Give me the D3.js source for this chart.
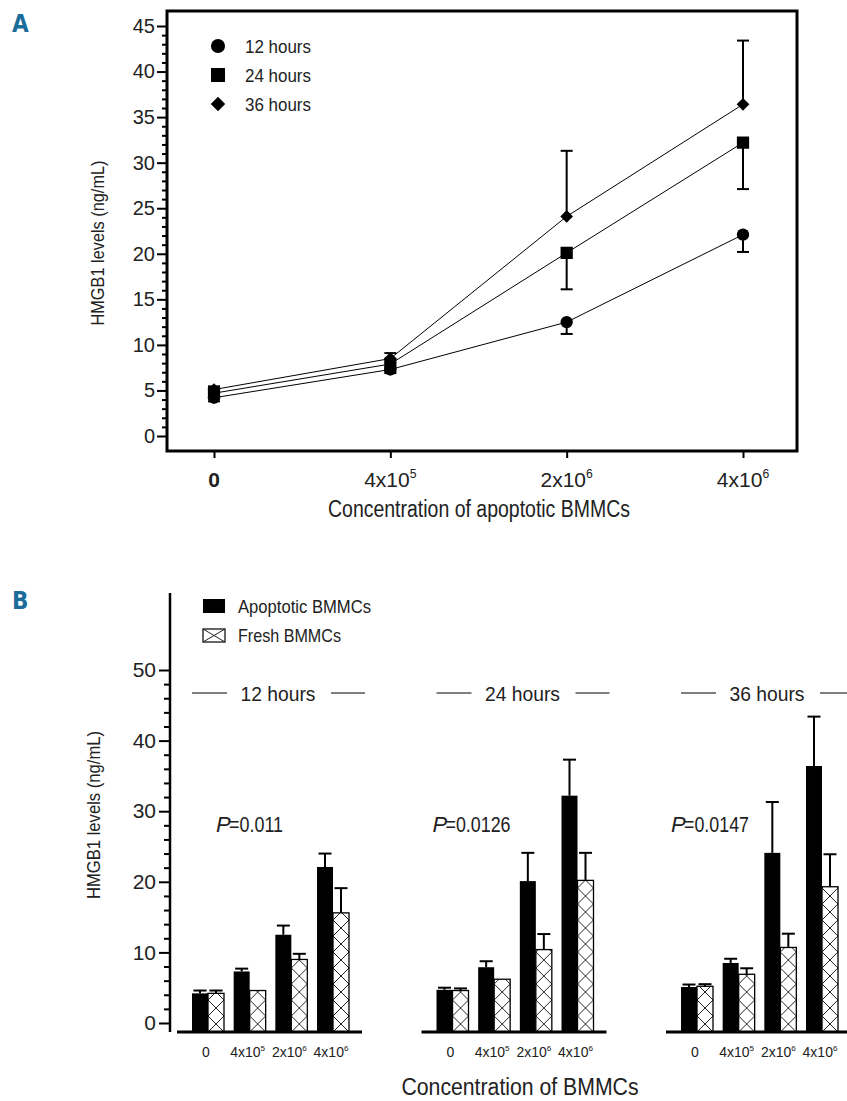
<!DOCTYPE html>
<html>
<head>
<meta charset="utf-8">
<script src="https://d3js.org/d3.v7.min.js"></script>
<style>
  body { margin: 0; background: #fff; }
  svg { font-family: "Liberation Sans", Arial, sans-serif; }
  .letter { font-family: "DejaVu Sans Condensed", "Liberation Sans", sans-serif; font-weight: bold; fill: #1b6c9a; }
  .axis .domain { display: none; }
  .axis line { stroke: #000; stroke-width: 2; }
  .axis text { fill: #222; font-family: "Liberation Sans", Arial, sans-serif; }
</style>
</head>
<body>
<svg id="fig" width="847" height="1101"></svg>
<script>
// ---- data ----
const concentrations = ["0", "4x10^5", "2x10^6", "4x10^6"];
const hours = ["12 hours", "24 hours", "36 hours"];

// apoptotic BMMCs (panel A lines and panel B black bars)
const apoptotic12 = [4.2, 7.3, 12.5, 22.1];
const apoptotic24 = [4.7, 7.9, 20.1, 32.2];
const apoptotic36 = [5.1, 8.5, 24.1, 36.4];
const apoptoticErr12 = [0.4, 0.4, 1.3, 1.9];
const apoptoticErr24 = [0.3, 0.85, 4.0, 5.1];
const apoptoticErr36 = [0.35, 0.6, 7.2, 7.0];

// fresh BMMCs (panel B hatched bars)
const fresh12 = [4.2, 4.6, 9.0, 15.6];
const fresh24 = [4.6, 6.2, 10.4, 20.2];
const fresh36 = [5.2, 6.9, 10.7, 19.3];
const freshErr12 = [0.4, 0, 0.8, 3.5];
const freshErr24 = [0.3, 0, 2.2, 3.9];
const freshErr36 = [0.3, 0.85, 1.95, 4.6];

const pValues = ["0.011", "0.0126", "0.0147"];
const yTicksA = d3.range(0, 46, 5);
const yTicksB = d3.range(0, 51, 10);

const apoptotic = [apoptotic12, apoptotic24, apoptotic36];
const apoptoticErr = [apoptoticErr12, apoptoticErr24, apoptoticErr36];
const fresh = [fresh12, fresh24, fresh36];
const freshErr = [freshErr12, freshErr24, freshErr36];

const svg = d3.select("#fig");

// superscript label helper: "4x10^5" -> 4x10 + small 5
function concLabel(sel, label, size) {
  const parts = label.split("^");
  sel.append("tspan").text(parts[0]);
  if (parts[1]) {
    sel.append("tspan").attr("font-size", size * 0.58).attr("dy", -size * 0.42).text(parts[1]);
  }
}
// squeeze a text to a width (the original uses a condensed face)
function squeeze(sel, w) {
  sel.attr("textLength", w).attr("lengthAdjust", "spacingAndGlyphs");
}

// ================= Panel A =================
svg.append("text").attr("class", "letter").attr("x", 12).attr("y", 32).attr("font-size", 24).text("A");

const xA = d3.scalePoint().domain(concentrations).range([214, 743]);
const yA = d3.scaleLinear().domain([0, 45]).range([436, 26]);
const panelA = svg.append("g");

panelA.append("g").attr("class", "axis")
  .attr("transform", "translate(167,0)")
  .call(d3.axisLeft(yA).tickValues(yTicksA).tickSize(10).tickPadding(2))
  .selectAll("text").attr("font-size", 20);

panelA.append("g").attr("class", "axis")
  .attr("transform", "translate(167,0)")
  .call(d3.axisLeft(yA).tickValues(d3.range(0, 46).filter(v => v % 5)).tickSize(5).tickFormat(""));

panelA.append("g").attr("class", "axis")
  .attr("transform", "translate(0,451)")
  .call(d3.axisBottom(xA).tickSize(7).tickFormat(""));

panelA.selectAll("text.xlab").data(concentrations)
  .join("text")
  .attr("class", "xlab")
  .attr("x", d => xA(d))
  .attr("y", 487)
  .attr("text-anchor", "middle")
  .attr("font-size", 21)
  .attr("font-weight", (d, i) => i === 0 ? "bold" : "normal")
  .attr("fill", "#222")
  .each(function(d) { concLabel(d3.select(this), d, 21); });

panelA.append("rect")
  .attr("x", 167).attr("y", 11).attr("width", 630).attr("height", 440)
  .attr("fill", "none").attr("stroke", "#000").attr("stroke-width", 3);

const lineA = d3.line().x((d, i) => xA(concentrations[i])).y(d => yA(d));
panelA.selectAll("path.series").data(apoptotic)
  .join("path")
  .attr("class", "series")
  .attr("d", lineA)
  .attr("fill", "none")
  .attr("stroke", "#000")
  .attr("stroke-width", 1);

// error bars: 12h and 24h drawn downward, 36h upward
const errDirA = [-1, -1, 1];
apoptotic.forEach((series, s) => {
  const g = panelA.append("g");
  series.forEach((m, i) => {
    const x = xA(concentrations[i]);
    const yEnd = yA(m + errDirA[s] * apoptoticErr[s][i]);
    g.append("line").attr("x1", x).attr("x2", x).attr("y1", yA(m)).attr("y2", yEnd)
      .attr("stroke", "#000").attr("stroke-width", 2);
    g.append("line").attr("x1", x - 6).attr("x2", x + 6).attr("y1", yEnd).attr("y2", yEnd)
      .attr("stroke", "#000").attr("stroke-width", 2);
  });
});

const symbols = [
  { type: d3.symbolCircle, size: 120, rot: 0 },
  { type: d3.symbolSquare, size: 150, rot: 0 },
  { type: d3.symbolSquare, size: 80, rot: 45 }
];
apoptotic.forEach((series, s) => {
  panelA.selectAll("path.mk" + s).data(series)
    .join("path")
    .attr("class", "mk" + s)
    .attr("d", d3.symbol().type(symbols[s].type).size(symbols[s].size))
    .attr("transform", (d, i) => `translate(${xA(concentrations[i])},${yA(d)}) rotate(${symbols[s].rot})`)
    .attr("fill", "#000");
});

// legend A
hours.forEach((h, s) => {
  const y = 46 + s * 29;
  panelA.append("path")
    .attr("d", d3.symbol().type(symbols[s].type).size(symbols[s].size * 1.3))
    .attr("transform", `translate(218,${y}) rotate(${symbols[s].rot})`)
    .attr("fill", "#000");
  panelA.append("text").attr("x", 245).attr("y", y + 7).attr("font-size", 18).attr("fill", "#222")
    .text(h).call(squeeze, 66);
});

panelA.append("text")
  .attr("transform", "translate(104,243) rotate(-90)")
  .attr("text-anchor", "middle").attr("font-size", 18).attr("fill", "#222")
  .text("HMGB1 levels (ng/mL)").call(squeeze, 165);

panelA.append("text")
  .attr("x", 479).attr("y", 517).attr("text-anchor", "middle")
  .attr("font-size", 23).attr("fill", "#222")
  .text("Concentration of apoptotic BMMCs").call(squeeze, 302);

// ================= Panel B =================
svg.append("text").attr("class", "letter").attr("x", 12).attr("y", 609).attr("font-size", 24).text("B");

const yB = d3.scaleLinear().domain([0, 50]).range([1023, 670]);
const groupX = d3.scalePoint().domain(hours).range([208, 697]);
const concX = d3.scalePoint().domain(concentrations).range([0, 125]);
const barW = 16;
const baseY = 1032;
const panelB = svg.append("g");

panelB.append("line").attr("x1", 170).attr("x2", 170).attr("y1", 593).attr("y2", baseY)
  .attr("stroke", "#000").attr("stroke-width", 2.5);
panelB.append("g").attr("class", "axis")
  .attr("transform", "translate(170,0)")
  .call(d3.axisLeft(yB).tickValues(yTicksB).tickSize(11).tickPadding(3))
  .selectAll("text").attr("font-size", 21);
panelB.append("g").attr("class", "axis")
  .attr("transform", "translate(170,0)")
  .call(d3.axisLeft(yB).tickValues(d3.range(0, 51, 2).filter(v => v % 10)).tickSize(6).tickFormat(""));

const defs = svg.append("defs");

function hatchPath(x, w, top, bottom) {
  const p = d3.path();
  for (let y = bottom; y > top - w; y -= w) {
    p.moveTo(x, y); p.lineTo(x + w, y - w);
    p.moveTo(x + w, y); p.lineTo(x, y - w);
  }
  return p.toString();
}

hours.forEach((h, gi) => {
  const gx = groupX(h);
  const g = panelB.append("g");

  concentrations.forEach((c, i) => {
    const cx = gx + concX(c);
    // apoptotic bar
    g.append("rect")
      .attr("x", cx - barW).attr("y", yB(apoptotic[gi][i]))
      .attr("width", barW).attr("height", baseY - yB(apoptotic[gi][i]))
      .attr("fill", "#000");
    // fresh bar, hatched
    const top = yB(fresh[gi][i]);
    const clipId = `clip-${gi}-${i}`;
    defs.append("clipPath").attr("id", clipId)
      .append("rect").attr("x", cx).attr("y", top).attr("width", barW).attr("height", baseY - top);
    g.append("rect").attr("x", cx).attr("y", top).attr("width", barW).attr("height", baseY - top).attr("fill", "#fff");
    g.append("path").attr("d", hatchPath(cx, barW, top, baseY))
      .attr("clip-path", `url(#${clipId})`)
      .attr("stroke", "#222").attr("stroke-width", 1).attr("fill", "none");
    g.append("rect").attr("x", cx).attr("y", top).attr("width", barW).attr("height", baseY - top)
      .attr("fill", "none").attr("stroke", "#000").attr("stroke-width", 1.3);

    // error bars (upward)
    [[cx - barW / 2, apoptotic[gi][i], apoptoticErr[gi][i]], [cx + barW / 2, fresh[gi][i], freshErr[gi][i]]]
      .forEach(([ex, m, e]) => {
        if (!e) return;
        g.append("line").attr("x1", ex).attr("x2", ex).attr("y1", yB(m)).attr("y2", yB(m + e))
          .attr("stroke", "#000").attr("stroke-width", 2);
        g.append("line").attr("x1", ex - 6.5).attr("x2", ex + 6.5).attr("y1", yB(m + e)).attr("y2", yB(m + e))
          .attr("stroke", "#000").attr("stroke-width", 2);
      });

    g.append("text")
      .attr("x", cx - 2).attr("y", 1057).attr("text-anchor", "middle")
      .attr("font-size", 14).attr("fill", "#222")
      .call(t => concLabel(t, c, 14));
  });

  g.append("line").attr("x1", gx - 31).attr("x2", gx + 154).attr("y1", baseY).attr("y2", baseY)
    .attr("stroke", "#000").attr("stroke-width", 3);

  // group header
  const hc = gx + 70;
  g.append("text").attr("x", hc).attr("y", 701).attr("text-anchor", "middle")
    .attr("font-size", 21).attr("fill", "#222").text(h).call(squeeze, 75);
  g.append("line").attr("x1", hc - 86).attr("x2", hc - 51).attr("y1", 693).attr("y2", 693).attr("stroke", "#000").attr("stroke-width", 1);
  g.append("line").attr("x1", hc + 53).attr("x2", hc + 87).attr("y1", 693).attr("y2", 693).attr("stroke", "#000").attr("stroke-width", 1);
});

// P values: italic P, then "=value"
const pOffset = [8, -20, -26];
pValues.forEach((p, gi) => {
  const x0 = groupX(hours[gi]) + pOffset[gi];
  panelB.append("text").attr("x", x0).attr("y", 832)
    .attr("font-size", 22).attr("font-style", "italic").attr("fill", "#222").text("P");
  panelB.append("text").attr("x", x0 + 13).attr("y", 832)
    .attr("font-size", 22).attr("fill", "#222")
    .text("=" + p).call(squeeze, p.length === 5 ? 54 : 65);
});

// legend B
panelB.append("rect").attr("x", 203).attr("y", 599).attr("width", 22).attr("height", 14).attr("fill", "#000");
panelB.append("rect").attr("x", 203).attr("y", 629).attr("width", 22).attr("height", 13)
  .attr("fill", "#fff").attr("stroke", "#000").attr("stroke-width", 1.2);
panelB.append("path").attr("d", "M203,629L225,642M225,629L203,642").attr("stroke", "#222").attr("stroke-width", 1);
panelB.append("text").attr("x", 238).attr("y", 613).attr("font-size", 19).attr("fill", "#222")
  .text("Apoptotic BMMCs").call(squeeze, 133);
panelB.append("text").attr("x", 238).attr("y", 642).attr("font-size", 19).attr("fill", "#222")
  .text("Fresh BMMCs").call(squeeze, 103);

panelB.append("text")
  .attr("transform", "translate(100,815) rotate(-90)")
  .attr("text-anchor", "middle").attr("font-size", 18).attr("fill", "#222")
  .text("HMGB1 levels (ng/mL)").call(squeeze, 168);

panelB.append("text")
  .attr("x", 520).attr("y", 1095).attr("text-anchor", "middle")
  .attr("font-size", 23).attr("fill", "#222")
  .text("Concentration of BMMCs").call(squeeze, 237);
</script>
</body>
</html>
